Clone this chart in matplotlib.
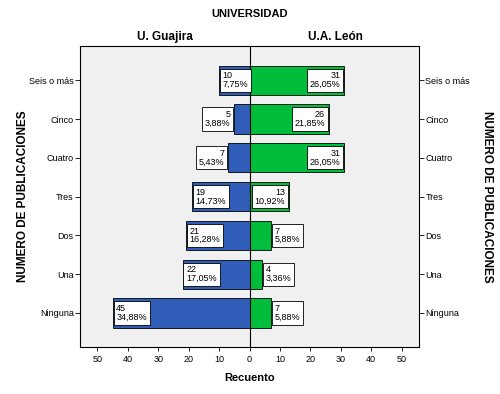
import matplotlib.pyplot as plt
import numpy as np

plt.rcParams['font.family'] = ['Liberation Sans', 'DejaVu Sans']

categories = ['Ninguna', 'Una', 'Dos', 'Tres', 'Cuatro', 'Cinco', 'Seis o más']
guajira_n = [45, 22, 21, 19, 7, 5, 10]
guajira_pct = ['34,88%', '17,05%', '16,28%', '14,73%', '5,43%', '3,88%', '7,75%']
leon_n = [7, 4, 7, 13, 31, 26, 31]
leon_pct = ['5,88%', '3,36%', '5,88%', '10,92%', '26,05%', '21,85%', '26,05%']

blue = '#2F5DB8'
green = '#00BD3C'

fig = plt.figure(figsize=(5, 3.94), dpi=100)
ax = fig.add_axes([0.16, 0.119, 0.678, 0.764])
ax.set_facecolor('#F0F0F0')

y = np.arange(len(categories))
ax.barh(y, [-v for v in guajira_n], height=0.75, color=blue, edgecolor='black', linewidth=0.6)
ax.barh(y, leon_n, height=0.75, color=green, edgecolor='black', linewidth=0.6)
ax.axvline(0, color='black', linewidth=0.8)

box = dict(boxstyle='square,pad=0.3', fc='white', ec='black', lw=0.6)
fs = 6.5
off = 1.2
for i in range(len(categories)):
    g = guajira_n[i]
    txt = f'{g}\n{guajira_pct[i]}'
    if g >= 10:
        ax.text(-g + off, y[i], txt, ha='left', va='center', fontsize=fs,
                linespacing=0.95, bbox=box, multialignment='left')
    else:
        ax.text(-g - off, y[i], txt, ha='right', va='center', fontsize=fs,
                linespacing=0.95, bbox=box, multialignment='right')
    l = leon_n[i]
    txt = f'{l}\n{leon_pct[i]}'
    if l >= 10:
        ax.text(l - off, y[i], txt, ha='right', va='center', fontsize=fs,
                linespacing=0.95, bbox=box, multialignment='right')
    else:
        ax.text(l + off, y[i], txt, ha='left', va='center', fontsize=fs,
                linespacing=0.95, bbox=box, multialignment='left')

ax.set_xlim(-55.7, 55.7)
ax.set_ylim(-0.88, 6.88)
xt = [-50, -40, -30, -20, -10, 0, 10, 20, 30, 40, 50]
ax.set_xticks(xt)
ax.set_xticklabels([str(abs(v)) for v in xt], fontsize=6.5)
ax.set_yticks(y)
ax.set_yticklabels(categories, fontsize=6.5)
ax.tick_params(axis='y', left=True, right=True, labelleft=True, labelright=True,
               length=3.5, width=0.6, pad=1)
ax.tick_params(axis='x', length=3, width=0.6, pad=3)
for s in ax.spines.values():
    s.set_linewidth(0.8)

ax.set_xlabel('Recuento', fontsize=8, fontweight='bold', labelpad=6)
ax.set_ylabel('NUMERO DE PUBLICACIONES', fontsize=8.5, fontweight='bold', labelpad=0)
fig.text(0.974, 0.5, 'NUMERO DE PUBLICACIONES', rotation=-90, ha='center', va='center',
         fontsize=8.5, fontweight='bold')

fig.text(0.5, 0.965, 'UNIVERSIDAD', ha='center', va='center', fontsize=8, fontweight='bold')
fig.text(0.33, 0.905, 'U. Guajira', ha='center', va='center', fontsize=8.5, fontweight='bold')
fig.text(0.67, 0.905, 'U.A. León', ha='center', va='center', fontsize=8.5, fontweight='bold')

fig.savefig('out.png', dpi=100)
